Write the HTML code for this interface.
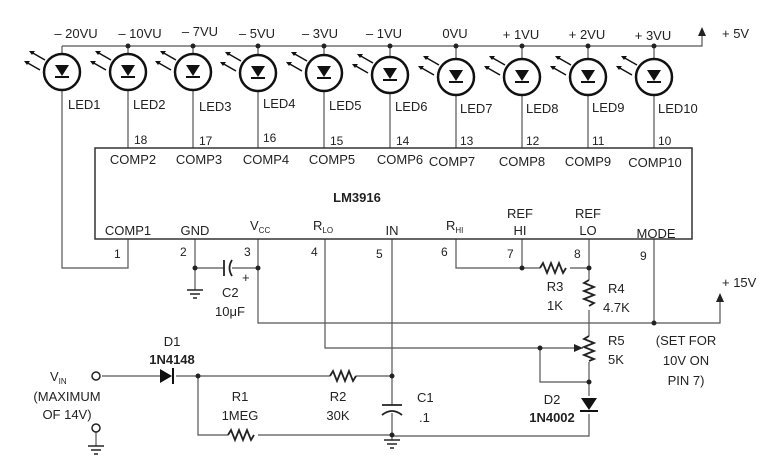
<!DOCTYPE html>
<html><head><style>body{margin:0;background:#fff}svg{display:block}text{font-family:"Liberation Sans",sans-serif;fill:#222}</style></head><body>
<svg width="770" height="466" viewBox="0 0 770 466" xmlns="http://www.w3.org/2000/svg">
<defs>
<g id="led"><circle r="18" fill="#fff" stroke="#111" stroke-width="2.5"/><path d="M-7,-7 L7,-7 L0,4 Z" fill="#111"/><line x1="-7" y1="5" x2="7" y2="5" stroke="#111" stroke-width="2"/>
<g stroke="#111" stroke-width="1.5"><line x1="-22" y1="-2" x2="-36" y2="-10"/><line x1="-17" y1="-12" x2="-31" y2="-20"/></g>
<path d="M-38,-11 l6,0 l-3,4z M-33,-21 l6,0 l-3,4z" fill="#111"/></g>
<g id="gnd" stroke="#222" stroke-width="1.5"><line x1="-8" y1="0" x2="8" y2="0"/><line x1="-5" y1="4" x2="5" y2="4"/><line x1="-2" y1="8" x2="2" y2="8"/></g>
</defs>
<g stroke="#555" stroke-width="1.2" fill="none">
<polyline points="62,46 702,46 702,34"/>
<line x1="128" y1="46" x2="128" y2="148"/><line x1="193" y1="46" x2="193" y2="148"/><line x1="258" y1="46" x2="258" y2="148"/><line x1="324" y1="46" x2="324" y2="148"/><line x1="390" y1="46" x2="390" y2="148"/><line x1="456" y1="46" x2="456" y2="148"/><line x1="522" y1="46" x2="522" y2="148"/><line x1="588" y1="46" x2="588" y2="148"/><line x1="654" y1="46" x2="654" y2="148"/>
<line x1="62" y1="46" x2="62" y2="60"/>
<polyline points="128,239 128,268 62,268 62,88"/>
<polyline points="195,239 195,290"/>
<line x1="195" y1="268" x2="224" y2="268"/><line x1="232" y1="268" x2="258" y2="268"/>
<polyline points="258,239 258,323 720,323 720,300"/>
<polyline points="325,239 325,348 583,348"/>
<polyline points="392,239 392,405"/><polyline points="392,413 392,440"/>
<polyline points="456,239 456,268 540,268"/><polyline points="570,268 589,268"/>
<polyline points="522,239 522,268"/>
<polyline points="589,239 589,280"/><polyline points="589,310 589,336"/><polyline points="589,362 589,396"/>
<polyline points="540,348 540,382 589,382"/>
<polyline points="589,414 589,436 392,436"/>
<polyline points="654,239 654,323"/>
<polyline points="102,376 162,376"/><polyline points="176,376 330,376"/><polyline points="356,376 392,376"/>
<polyline points="198,376 198,435 228,435"/><polyline points="258,435 392,435"/>
<line x1="96" y1="432" x2="96" y2="446"/>
</g>
<g stroke="#222" stroke-width="1.8" fill="none">
<path d="M224,260 v16 M232,260 q-5,8 0,16"/>
<path d="M330,376 l3,-5 l4,10 l4,-10 l4,10 l4,-10 l4,10 l3,-5"/>
<path d="M228,435 l3,-5 l4,10 l4,-10 l4,10 l4,-10 l4,10 l3,-5"/>
<path d="M540,268 l3,-5 l4,10 l4,-10 l4,10 l4,-10 l4,10 l3,-5"/>
<path d="M589,280 l-5,3 l10,4 l-10,4 l10,4 l-10,4 l10,4 l-5,3"/>
<path d="M589,336 l-5,3 l10,4 l-10,4 l10,4 l-10,4 l10,4 l-5,2"/>
<path d="M382,405 h20 M382,415 q10,-8 20,0"/>
</g>
<path d="M574,344 l9,4 l-9,4z M698,36 l4,-9 l4,9z M716,302 l4,-9 l4,9z" fill="#222"/>
<path d="M160,369 l12,7 l-12,7z" fill="#111"/><line x1="173" y1="368" x2="173" y2="384" stroke="#111" stroke-width="2"/>
<path d="M581,398 l16,0 l-8,12z" fill="#111"/><line x1="580" y1="411" x2="598" y2="411" stroke="#111" stroke-width="2"/>
<g fill="#222"><circle cx="128" cy="46" r="2.5"/><circle cx="193" cy="46" r="2.5"/><circle cx="258" cy="46" r="2.5"/><circle cx="324" cy="46" r="2.5"/><circle cx="390" cy="46" r="2.5"/><circle cx="456" cy="46" r="2.5"/><circle cx="522" cy="46" r="2.5"/><circle cx="588" cy="46" r="2.5"/><circle cx="654" cy="46" r="2.5"/>
<circle cx="195" cy="268" r="2.5"/><circle cx="258" cy="268" r="2.5"/><circle cx="522" cy="268" r="2.5"/><circle cx="589" cy="268" r="2.5"/><circle cx="654" cy="323" r="2.5"/><circle cx="540" cy="348" r="2.5"/><circle cx="589" cy="382" r="2.5"/><circle cx="198" cy="376" r="2.5"/><circle cx="392" cy="376" r="2.5"/><circle cx="392" cy="435" r="2.5"/></g>
<circle cx="96" cy="376" r="4" fill="#fff" stroke="#222" stroke-width="1.5"/><circle cx="96" cy="428" r="4" fill="#fff" stroke="#222" stroke-width="1.5"/>
<use href="#gnd" x="195" y="290"/><use href="#gnd" x="392" y="440"/><use href="#gnd" x="96" y="446"/>
<use href="#led" x="62" y="72"/><use href="#led" x="128" y="72"/><use href="#led" x="193" y="72"/><use href="#led" x="258" y="73"/><use href="#led" x="324" y="73"/><use href="#led" x="390" y="75"/><use href="#led" x="456" y="77"/><use href="#led" x="522" y="77"/><use href="#led" x="588" y="77"/><use href="#led" x="654" y="77"/>
<rect x="95" y="148" width="597" height="91" fill="none" stroke="#333" stroke-width="1.5"/>
<g font-size="13">
<text x="76" y="38" text-anchor="middle">– 20VU</text><text x="140" y="38" text-anchor="middle">– 10VU</text><text x="200" y="36" text-anchor="middle">– 7VU</text><text x="257" y="38" text-anchor="middle">– 5VU</text><text x="320" y="38" text-anchor="middle">– 3VU</text><text x="384" y="38" text-anchor="middle">– 1VU</text><text x="455" y="38" text-anchor="middle">0VU</text><text x="521" y="39" text-anchor="middle">+ 1VU</text><text x="587" y="39" text-anchor="middle">+ 2VU</text><text x="653" y="40" text-anchor="middle">+ 3VU</text><text x="722" y="38">+ 5V</text>
<text x="68" y="109">LED1</text><text x="133" y="109">LED2</text><text x="199" y="111">LED3</text><text x="263" y="108">LED4</text><text x="329" y="110">LED5</text><text x="395" y="111">LED6</text><text x="460" y="113">LED7</text><text x="526" y="113">LED8</text><text x="592" y="112">LED9</text><text x="658" y="113">LED10</text>
<text x="134" y="144" font-size="12">18</text><text x="199" y="145" font-size="12">17</text><text x="263" y="142" font-size="12">16</text><text x="330" y="145" font-size="12">15</text><text x="396" y="145" font-size="12">14</text><text x="460" y="145" font-size="12">13</text><text x="526" y="145" font-size="12">12</text><text x="592" y="145" font-size="12">11</text><text x="658" y="145" font-size="12">10</text>
<text x="133" y="164" text-anchor="middle">COMP2</text><text x="199" y="164" text-anchor="middle">COMP3</text><text x="266" y="164" text-anchor="middle">COMP4</text><text x="332" y="164" text-anchor="middle">COMP5</text><text x="400" y="164" text-anchor="middle">COMP6</text><text x="452" y="166" text-anchor="middle">COMP7</text><text x="522" y="166" text-anchor="middle">COMP8</text><text x="588" y="166" text-anchor="middle">COMP9</text><text x="655" y="167" text-anchor="middle">COMP10</text>
<text x="357" y="202" font-weight="bold" text-anchor="middle">LM3916</text>
<text x="128" y="235" text-anchor="middle">COMP1</text><text x="195" y="235" text-anchor="middle">GND</text><text x="250" y="230">V<tspan font-size="8" dy="3">CC</tspan></text><text x="313" y="230">R<tspan font-size="8" dy="3">LO</tspan></text><text x="392" y="235" text-anchor="middle">IN</text><text x="446" y="230">R<tspan font-size="8" dy="3">HI</tspan></text>
<text x="520" y="218" text-anchor="middle">REF</text><text x="520" y="235" text-anchor="middle">HI</text><text x="588" y="218" text-anchor="middle">REF</text><text x="588" y="235" text-anchor="middle">LO</text><text x="656" y="238" text-anchor="middle">MODE</text>
<text x="114" y="258" font-size="12">1</text><text x="180" y="256" font-size="12">2</text><text x="244" y="256" font-size="12">3</text><text x="311" y="256" font-size="12">4</text><text x="376" y="258" font-size="12">5</text><text x="441" y="256" font-size="12">6</text><text x="507" y="258" font-size="12">7</text><text x="574" y="258" font-size="12">8</text><text x="640" y="260" font-size="12">9</text>
<text x="242" y="282">+</text><text x="222" y="297">C2</text><text x="215" y="316">10μF</text>
<text x="722" y="287">+ 15V</text>
<text x="555" y="291" text-anchor="middle">R3</text><text x="555" y="310" text-anchor="middle">1K</text><text x="608" y="293">R4</text><text x="603" y="312">4.7K</text>
<text x="608" y="345">R5</text><text x="608" y="364">5K</text>
<text x="686" y="345" text-anchor="middle">(SET FOR</text><text x="686" y="365" text-anchor="middle">10V ON</text><text x="686" y="385" text-anchor="middle">PIN 7)</text>
<text x="172" y="346" text-anchor="middle">D1</text><text x="172" y="364" text-anchor="middle" font-weight="bold">1N4148</text>
<text x="50" y="381">V<tspan font-size="8" dy="3">IN</tspan></text><text x="67" y="401" text-anchor="middle">(MAXIMUM</text><text x="67" y="419" text-anchor="middle">OF 14V)</text>
<text x="240" y="401" text-anchor="middle">R1</text><text x="240" y="420" text-anchor="middle">1MEG</text><text x="338" y="401" text-anchor="middle">R2</text><text x="338" y="420" text-anchor="middle">30K</text>
<text x="417" y="402">C1</text><text x="419" y="422">.1</text>
<text x="552" y="404" text-anchor="middle">D2</text><text x="552" y="422" text-anchor="middle" font-weight="bold">1N4002</text>
</g>
</svg>
</body></html>
